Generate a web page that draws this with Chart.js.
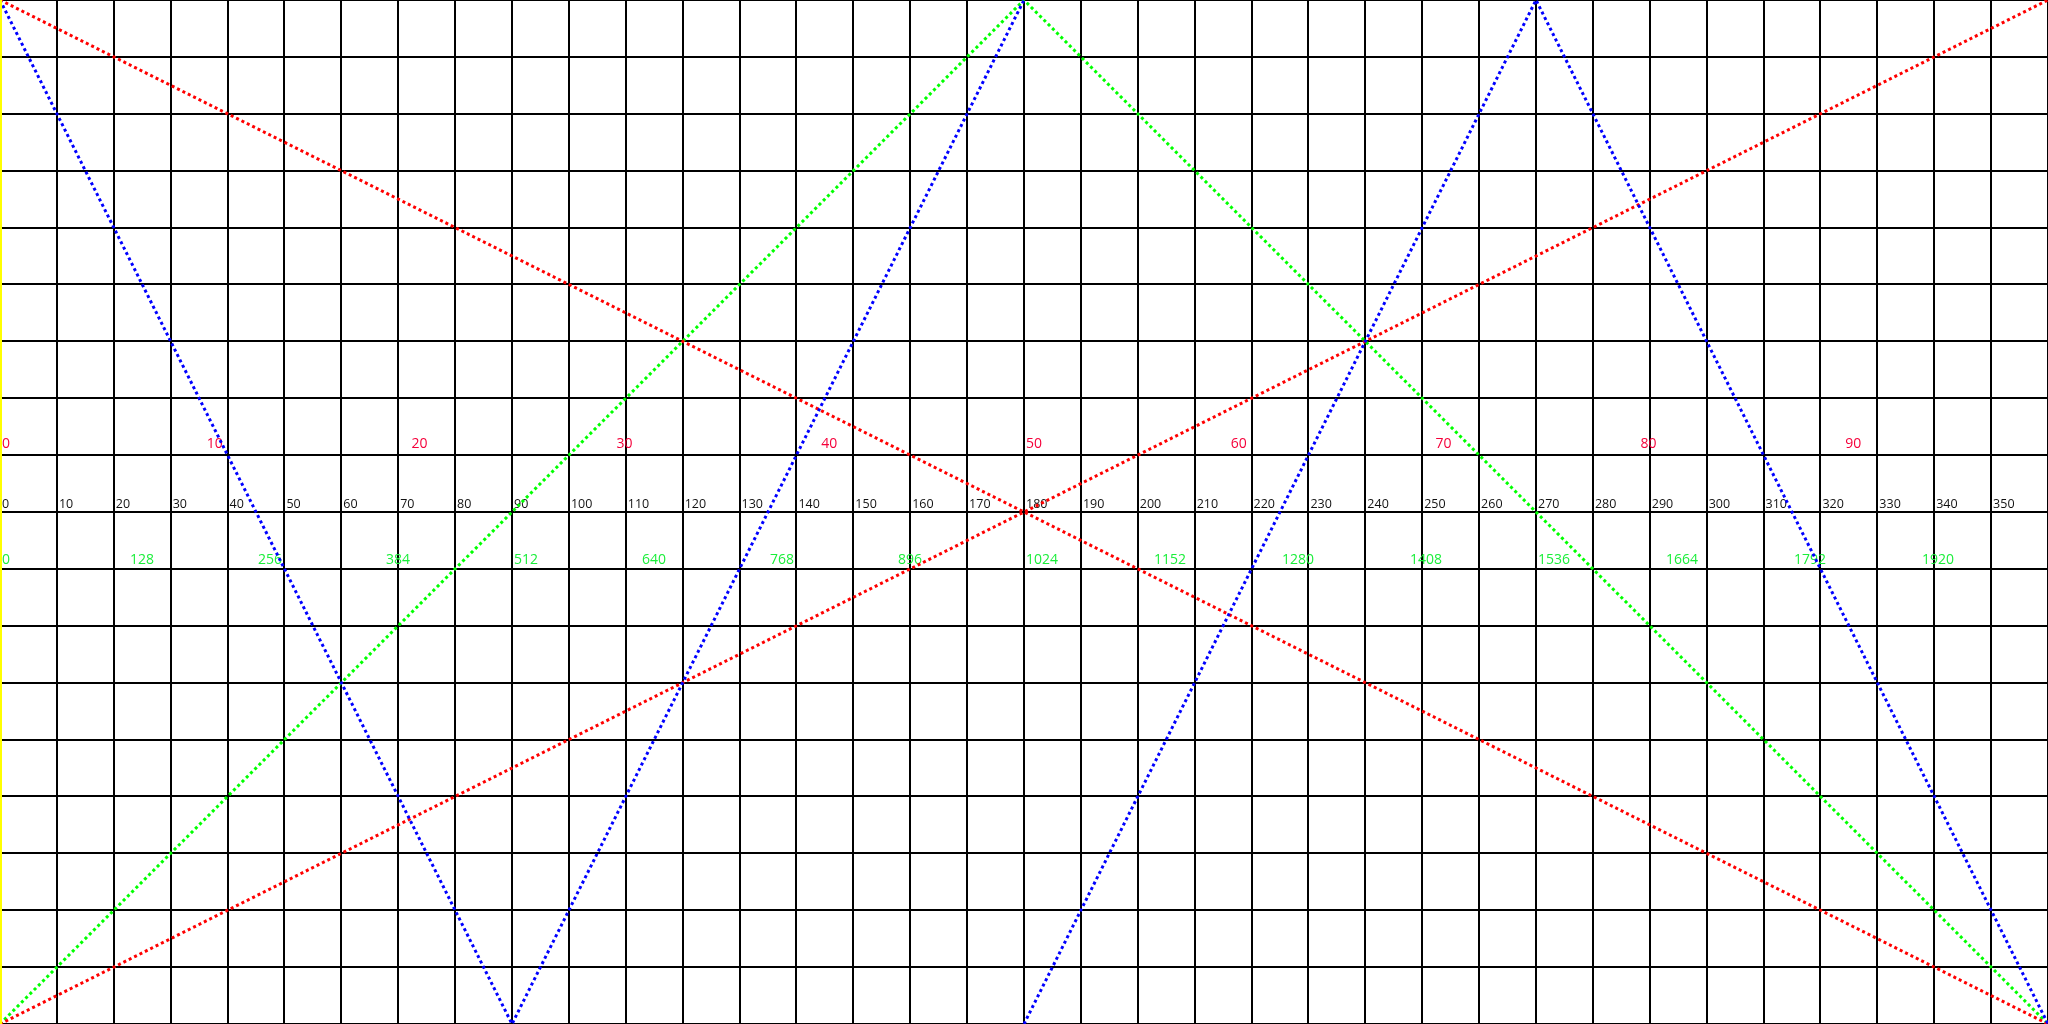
<!DOCTYPE html>
<html>
<head>
<meta charset="utf-8">
<script src="https://cdn.jsdelivr.net/npm/chart.js@4/dist/chart.umd.min.js"></script>
<style>
  html, body { margin: 0; padding: 0; background: #fff; }
  #wrap { width: 2048px; height: 1024px; position: relative; }
</style>
</head>
<body>
<div id="wrap"><canvas id="c"></canvas></div>
<script>
// ---- data (x in degrees 0..360, y in grid rows -9..9) ----
const blueX  = [0, 90, 180, 180, 180, 270, 360];
const blueY  = [9, -9, 9, null, -9, 9, -9];
const greenX = [0, 180, 360];
const greenY = [-9, 9, -9];
const redDownX = [0, 360];
const redDownY = [9, -9];
const redUpX = [0, 360];
const redUpY = [-9, 9];

// ---- tick labels ----
const degreeLabels = [0, 10, 20, 30, 40, 50, 60, 70, 80, 90, 100, 110, 120, 130, 140, 150, 160, 170,
                      180, 190, 200, 210, 220, 230, 240, 250, 260, 270, 280, 290, 300, 310, 320, 330, 340, 350];
const percentLabels = [0, 10, 20, 30, 40, 50, 60, 70, 80, 90];
const pixelLabels = [0, 128, 256, 384, 512, 640, 768, 896, 1024, 1152, 1280, 1408, 1536, 1664, 1792, 1920];

const toPoints = (xs, ys) => xs.map((x, i) => ({ x: x, y: ys[i] }));

const labelPlugin = {
  id: 'rowLabels',
  beforeDatasetsDraw(chart) {
    const ctx = chart.ctx;
    const sx = chart.scales.x, sy = chart.scales.y;
    const sp = chart.scales.xPct, spx = chart.scales.xPx;
    ctx.save();
    ctx.textAlign = 'left';
    ctx.textBaseline = 'alphabetic';
    // red percent labels
    ctx.font = "14px 'Open Sans'";
    ctx.fillStyle = '#f5003a';
    const yRed = sy.getPixelForValue(1) - 7;
    percentLabels.forEach(v => ctx.fillText(String(v), sp.getPixelForValue(v) + 2, yRed));
    // black degree labels
    ctx.font = "12.5px 'Open Sans'";
    ctx.fillStyle = '#111';
    const yBlack = sy.getPixelForValue(0) - 4;
    degreeLabels.forEach(v => ctx.fillText(String(v), sx.getPixelForValue(v) + 2, yBlack));
    // green pixel labels
    ctx.font = "14px 'Open Sans'";
    ctx.fillStyle = '#1aee3a';
    const yGreen = sy.getPixelForValue(-1) - 5;
    pixelLabels.forEach(v => ctx.fillText(String(v), spx.getPixelForValue(v) + 2, yGreen));
    ctx.restore();
  }
};

const dotted = { borderDash: [3, 3], borderWidth: 3, pointRadius: 0, fill: false, tension: 0, spanGaps: false };

new Chart(document.getElementById('c'), {
  type: 'line',
  data: {
    datasets: [
      Object.assign({ label: 'blue', data: toPoints(blueX, blueY), borderColor: '#0000ff', order: 0 }, dotted),
      Object.assign({ label: 'red down', data: toPoints(redDownX, redDownY), borderColor: '#ff0000', order: 1 }, dotted),
      Object.assign({ label: 'red up', data: toPoints(redUpX, redUpY), borderColor: '#ff0000', order: 1 }, dotted),
      Object.assign({ label: 'green', data: toPoints(greenX, greenY), borderColor: '#00ff00', order: 2 }, dotted)
    ]
  },
  options: {
    responsive: true,
    maintainAspectRatio: false,
    animation: false,
    layout: { padding: 0 },
    plugins: { legend: { display: false }, title: { display: false }, tooltip: { enabled: false } },
    scales: {
      x: {
        type: 'linear', min: 0, max: 360,
        ticks: { display: false, stepSize: 10 },
        grid: { color: '#000', lineWidth: (c) => (c.index === 0 ? 4 : 2), drawTicks: false },
        border: { display: false }
      },
      y: {
        type: 'linear', min: -9, max: 9,
        ticks: { display: false, stepSize: 1 },
        grid: { color: '#000', lineWidth: 2, drawTicks: false },
        border: { display: false }
      },
      yEdge: {
        type: 'linear', axis: 'y', position: 'left', min: -9, max: 9,
        ticks: { display: false },
        grid: { display: false, drawTicks: false },
        border: { display: true, color: '#ffff00', width: 4, dash: [4, 4], z: 1 }
      },
      xPct: { type: 'linear', axis: 'x', min: 0, max: 100, display: false },
      xPx: { type: 'linear', axis: 'x', min: 0, max: 2048, display: false }
    }
  },
  plugins: [labelPlugin]
});
</script>
</body>
</html>
